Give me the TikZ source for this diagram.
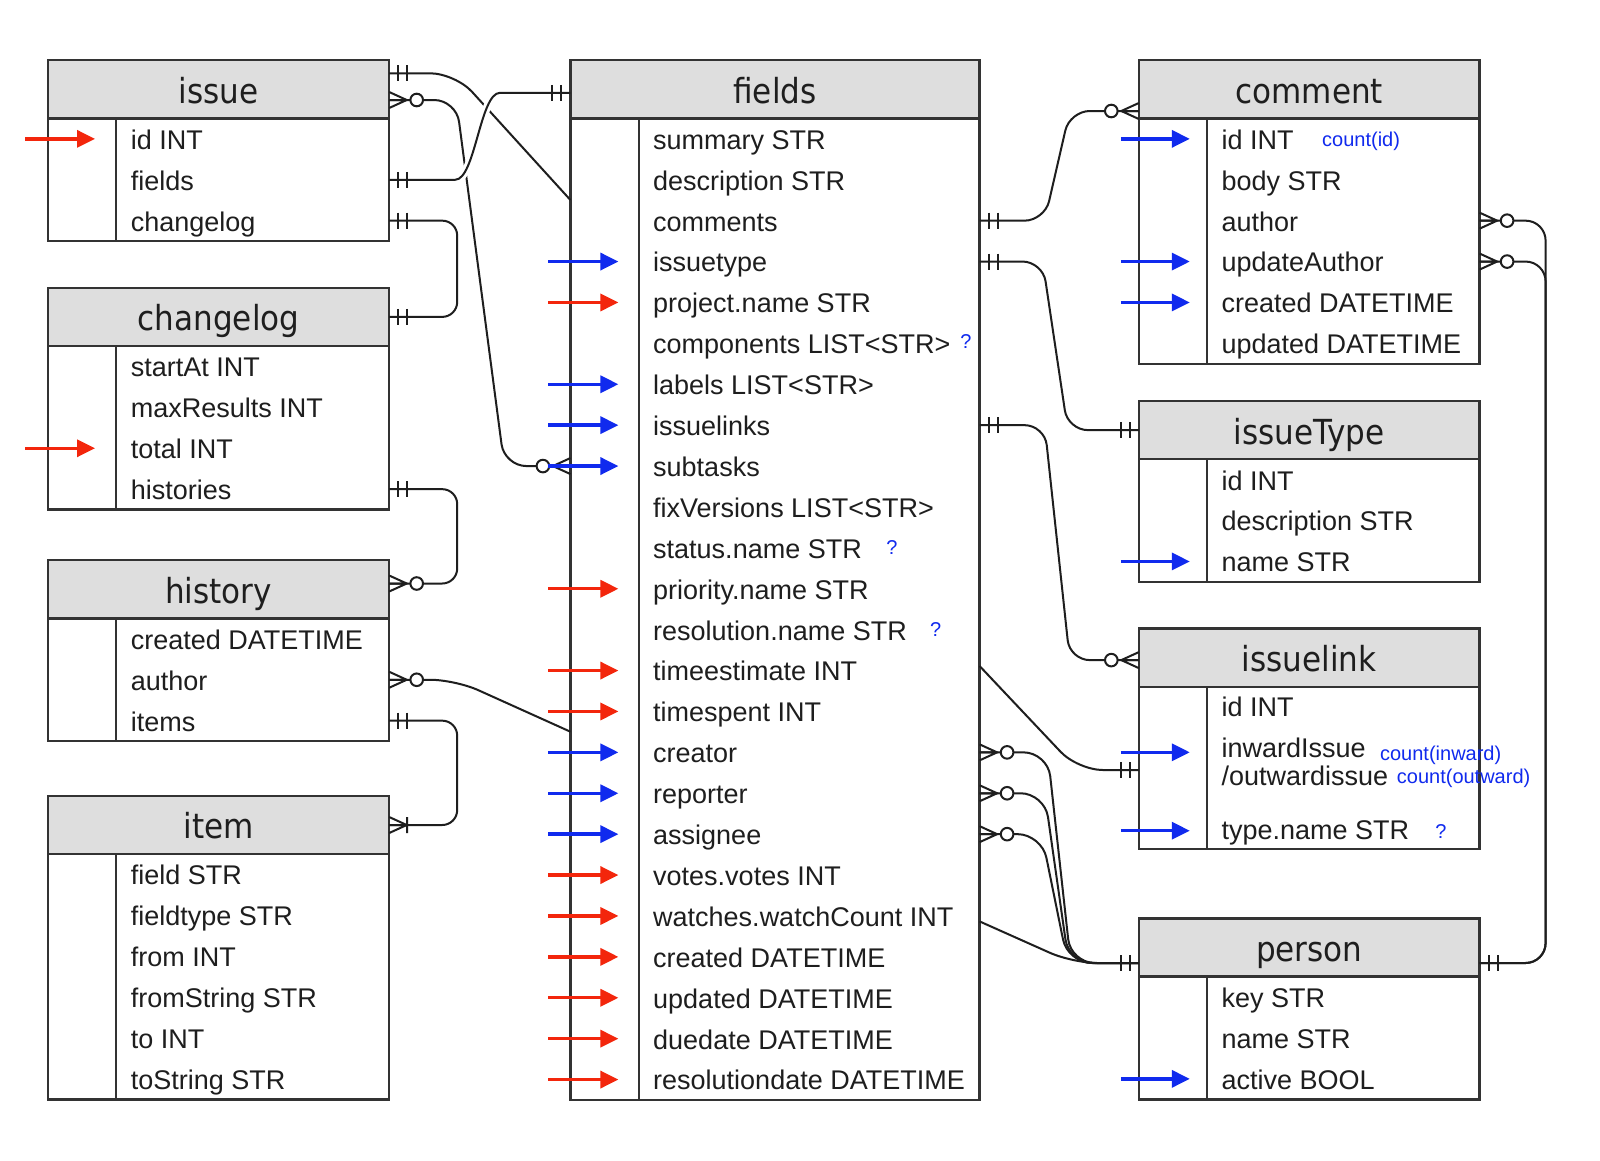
\documentclass[tikz,border=0pt]{standalone}
\usepackage{fontspec}
\setmainfont{Liberation Sans}
\newfontfamily\hdrfont[FakeStretch=0.9]{DejaVu Sans}
\usetikzlibrary{calc,arrows.meta}

\definecolor{hdrfill}{RGB}{222,222,222}
\definecolor{edge}{RGB}{51,51,51}
\definecolor{ink}{RGB}{30,30,30}
\definecolor{keyred}{RGB}{243,38,12}
\definecolor{keyblue}{RGB}{16,42,238}

\tikzset{
  hdrbox/.style={draw=edge, fill=hdrfill, line width=2.4pt, rectangle, inner sep=0pt, outer sep=0pt},
  bodybox/.style={draw=edge, fill=white, line width=2.4pt, rectangle, inner sep=0pt, outer sep=0pt},
  sepline/.style={draw=edge, line width=1.8pt},
  hdrtext/.style={font=\hdrfont\fontsize{34.5}{34.5}\selectfont, text=ink, inner sep=0pt},
  rowtext/.style={font=\fontsize{27}{27}\selectfont, text=ink, inner sep=0pt},
  note/.style={font=\fontsize{20}{20}\selectfont, text=keyblue, inner sep=0pt},
  rel/.style={draw=ink, line width=2pt, rounded corners=20pt},
  halo/.style={preaction={draw=white, line width=8pt, shorten <=14pt, shorten >=14pt}},
  keyarrow/.style={line width=3.4pt, -{Triangle[length=18pt,width=17pt]}},
  erone/.pic={\draw[draw=ink, line width=2pt] (9,-8) -- (9,8) (18,-8) -- (18,8);},
  ermany/.pic={\draw[draw=ink, line width=2pt] (0,-8) -- (17.5,0) -- (0,8) (0,0) -- (17.5,0);
               \draw[draw=ink, line width=2pt, fill=white] (27.5,0) circle (6.3);},
  eronemany/.pic={\draw[draw=ink, line width=2pt] (0,-8) -- (17.5,0) -- (0,8) (0,0) -- (17.5,0)
               (18,-8) -- (18,8);},
}

% #1 name, #2 left, #3 top, #4 width, #5 body height, #6 title
\newcommand{\ertable}[6]{%
  \node[bodybox, anchor=north west, minimum width=#4pt, minimum height=#5pt] (#1) at (#2,#3+58.2) {};
  \node[hdrbox, anchor=north west, minimum width=#4pt, minimum height=58.2pt] (#1-h) at (#2,#3) {};
  \draw[sepline] ($(#1.north west)+(68.3,0)$) -- ($(#1.south west)+(68.3,0)$);
  \node[hdrtext, anchor=base] (#1-t) at ($(#1-h.north)+(0,43)$) {#6};
}

% evenly spaced attribute rows with edge coordinates on both sides
\newcommand{\errows}[2]{%
  \foreach \txt [count=\rowi from 0] in {#2} {
    \coordinate (#1-w\rowi) at ($(#1.north west)+(0,20.45+40.9*\rowi)$);
    \coordinate (#1-e\rowi) at ($(#1.north east)+(0,20.45+40.9*\rowi)$);
    \node[rowtext, anchor=base west] (#1-r\rowi) at ($(#1-w\rowi)+(82.6,10.4)$) {\txt};
  }
}

% marker arrow pointing at an attribute row
\newcommand{\keyin}[4]{\draw[keyarrow, draw=#1] ($(#2)+(#3,0)$) -- ($(#2)+(#4,0)$);}

\begin{document}
\begin{tikzpicture}[x=1pt,y=-1pt]
\fill[white] (0,0) rectangle (1600,1160);
\useasboundingbox (0,0) rectangle (1600,1160);

% ---------------- tables ----------------
\ertable{issue}{48}{60.2}{341.2}{122.7}{issue}
\errows{issue}{id INT, fields, changelog}

\ertable{changelog}{48}{287.8}{341.2}{163.6}{changelog}
\errows{changelog}{startAt INT, maxResults INT, total INT, histories}

\ertable{history}{48}{560.2}{341.2}{122.7}{history}
\errows{history}{created DATETIME, author, items}

\ertable{item}{48}{795.9}{341.2}{245.4}{item}
\errows{item}{field STR, fieldtype STR, from INT, fromString STR, to INT, toString STR}

\ertable{fields}{570.4}{60.2}{409.2}{981.6}{fields}
\errows{fields}{summary STR, description STR, comments, issuetype, project.name STR,
  components LIST<STR>, labels LIST<STR>, issuelinks, subtasks, fixVersions LIST<STR>,
  status.name STR, priority.name STR, resolution.name STR, timeestimate INT, timespent INT,
  creator, reporter, assignee, votes.votes INT, watches.watchCount INT, created DATETIME,
  updated DATETIME, duedate DATETIME, resolutiondate DATETIME}

\ertable{comment}{1138.8}{60.2}{340.8}{245.4}{comment}
\errows{comment}{id INT, body STR, author, updateAuthor, created DATETIME, updated DATETIME}

\ertable{issueType}{1138.8}{401}{340.8}{122.7}{issueType}
\errows{issueType}{id INT, description STR, name STR}

\ertable{issuelink}{1138.8}{628.6}{340.8}{162.3}{issuelink}
\coordinate (issuelink-w1) at ($(issuelink.north west)+(0,65.5)$);
\coordinate (issuelink-w3) at ($(issuelink.north west)+(0,143.9)$);
\coordinate (issuelink-in) at ($(issuelink.north west)+(0,83.2)$);
\node[rowtext, anchor=base west] (issuelink-r0) at ($(issuelink.north west)+(82.6,29.4)$) {id INT};
\node[rowtext, anchor=base west] (issuelink-r1) at ($(issuelink.north west)+(82.6,70.2)$) {inwardIssue};
\node[rowtext, anchor=base west] (issuelink-r2) at ($(issuelink.north west)+(82.6,99.0)$) {/outwardissue};
\node[rowtext, anchor=base west] (issuelink-r3) at ($(issuelink.north west)+(82.6,152.2)$) {type.name STR};

\ertable{person}{1138.8}{918.4}{340.8}{122.7}{person}
\errows{person}{key STR, name STR, active BOOL}

% ---------------- annotations ----------------
\node[note, anchor=base] (q-comp) at ($(fields-e5)+(-13.6,5.5)$) {?};
\node[note, anchor=base] (q-status) at ($(fields-e10)+(-87.6,6.5)$) {?};
\node[note, anchor=base] (q-res) at ($(fields-e12)+(-43.9,6.5)$) {?};
\node[note, anchor=base] (q-type) at ($(issuelink-w3)+(302.2,7.3)$) {?};
\node[note, anchor=base west] (cnt-id) at ($(comment-w0)+(183.2,7.2)$) {count(id)};
\node[note, anchor=base west] (cnt-in) at ($(issuelink.north west)+(241.1,73.2)$) {count(inward)};
\node[note, anchor=base west] (cnt-out) at ($(issuelink.north west)+(257.9,96.5)$) {count(outward)};

% ---------------- attachment points on headers and edges ----------------
\coordinate (issue-hA) at ($(issue-h.north east)+(0,13.1)$);
\coordinate (issue-hB) at ($(issue-h.north east)+(0,39.8)$);
\coordinate (fields-hB) at ($(fields-h.west)+(0,3.5)$);
\coordinate (fields-in1) at ($(fields.north west)+(0,81.6)$);
\coordinate (fields-in2) at ($(fields.north west)+(0,613.3)$);
\coordinate (fields-out1) at ($(fields.north east)+(0,547.6)$);
\coordinate (fields-out2) at ($(fields.north east)+(0,803)$);
\coordinate (history-hA) at ($(history-h.east)+(0,-5.8)$);
\coordinate (comment-hA) at ($(comment-h.west)+(0,21.7)$);
\coordinate (issuelink-hA) at ($(issuelink-h.west)+(0,2.4)$);
\coordinate (person-hA) at ($(person-h.west)+(0,15.5)$);
\coordinate (person-hB) at ($(person-h.east)+(0,15.5)$);

% ---------------- relationships ----------------
\draw[rel, rounded corners=25pt] (issue-hA) -- ++(66,0) -- (fields-in1);
\draw[rel, rounded corners=22pt] (issue-hB) -- ++(67,0) -- ($(fields-w8)+(-66,0)$) -- (fields-w8);
\draw[rel, halo] (issue-e1) -- ++(46,0) .. controls +(40,0) and +(-40,0) .. ($(fields-hB)+(-50.4,0)$) -- (fields-hB);
\draw[rel, rounded corners=15pt] (issue-e2) -- ++(68,0) |- (changelog-h.east);
\draw[rel, rounded corners=15pt] (changelog-e3) -- ++(68,0) |- (history-hA);
\draw[rel, rounded corners=25pt] (history-e1) -- ++(66,0) -- (fields-in2);
\draw[rel, rounded corners=15pt] (history-e2) -- ++(68,0) |- (item-h.east);

\draw[rel] (fields-e2) -- ++(65,0) -- ($(comment-hA)+(-69,0)$) -- (comment-hA);
\draw[rel] (fields-e3) -- ++(63,0) -- ($(issueType-h.west)+(-71,0)$) -- (issueType-h.west);
\draw[rel] (fields-e7) -- ++(65,0) -- ($(issuelink-hA)+(-69,0)$) -- (issuelink-hA);
\draw[rel, rounded corners=25pt] (fields-out1) -- ($(issuelink-in)+(-61,0)$) -- (issuelink-in);
\draw[rel, rounded corners=24pt] (fields-e15) -- ++(68,0) -- ($(person-hA)+(-68,0)$) -- (person-hA);
\draw[rel, rounded corners=24pt] (fields-e16) -- ++(65,0) -- ($(person-hA)+(-70,0)$) -- (person-hA);
\draw[rel, rounded corners=24pt] (fields-e17) -- ++(62,0) -- ($(person-hA)+(-71,0)$) -- (person-hA);
\draw[rel, rounded corners=25pt] (fields-out2) -- ($(person-hA)+(-66,0)$) -- (person-hA);

\draw[rel] (comment-e2) -- ++(66,0) |- (person-hB);
\draw[rel] (comment-e3) -- ++(66,0) |- (person-hB);

% ---------------- cardinality marks ----------------
\foreach \p in {issue-hA, issue-e1, issue-e2, changelog-h.east, changelog-e3, history-e2,
                fields-e2, fields-e3, fields-e7, person-hB}
  \pic at (\p) {erone};
\foreach \p in {fields-hB, issueType-h.west, issuelink-in, person-hA}
  \pic[xscale=-1] at (\p) {erone};
\foreach \p in {issue-hB, history-hA, history-e1, fields-e15, fields-e16, fields-e17,
                comment-e2, comment-e3}
  \pic at (\p) {ermany};
\foreach \p in {fields-w8, comment-hA, issuelink-hA}
  \pic[xscale=-1] at (\p) {ermany};
\pic at (item-h.east) {eronemany};

% ---------------- key markers ----------------
\keyin{keyred}{issue-w0}{-23}{47}
\keyin{keyred}{changelog-w2}{-23}{47}
\foreach \r in {3,6,7,8,15,16,17} {\keyin{keyblue}{fields-w\r}{-22}{48}}
\foreach \r in {4,11,13,14,18,19,20,21,22,23} {\keyin{keyred}{fields-w\r}{-22}{48}}
\foreach \c in {comment-w0, comment-w3, comment-w4, issueType-w2, issuelink-w1, issuelink-w3, person-w2}
  {\keyin{keyblue}{\c}{-18}{51}}

\end{tikzpicture}
\end{document}
